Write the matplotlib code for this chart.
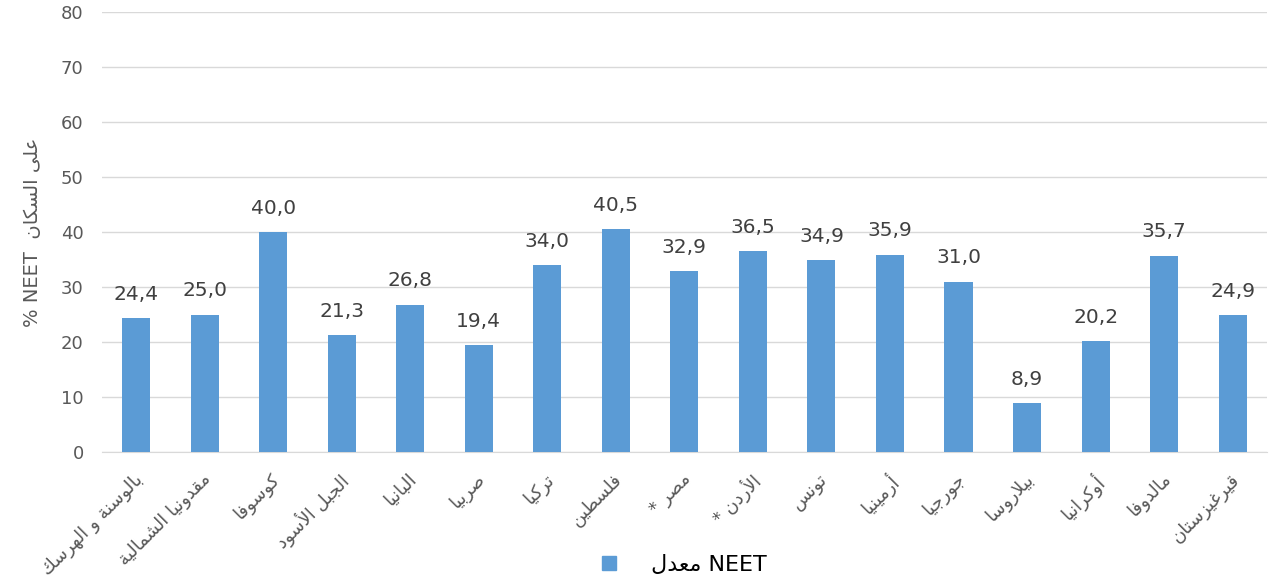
import numpy as np
import matplotlib.pyplot as plt
import matplotlib.transforms as mtransforms
from matplotlib.lines import Line2D

# data
countries = ["بالوسنة و الهرسك", "مقدونيا الشمالية", "كوسوفا", "الجبل الأسود", "البانيا",
             "صربيا", "تركيا", "فلسطين", "مصر *", "الأردن *", "تونس", "أرمينيا",
             "جورجيا", "بيلاروسا", "أوكرانيا", "مالدوفا", "قيرغيزستان"]
neet = [24.4, 25.0, 40.0, 21.3, 26.8, 19.4, 34.0, 40.5, 32.9, 36.5, 34.9, 35.9,
        31.0, 8.9, 20.2, 35.7, 24.9]
y_ticks = [0, 10, 20, 30, 40, 50, 60, 70, 80]

# matplotlib has no arabic shaping, so map to presentation forms and reverse
LETTERS = "ءآأؤإئابةتثجحخدذرزسشصضطظعغفقكلمنهوىي"
NFORMS = [1, 2, 2, 2, 2, 4, 2, 4, 2, 4, 4, 4, 4, 4, 2, 2, 2, 2, 4, 4, 4, 4, 4, 4,
          4, 4, 4, 4, 4, 4, 4, 4, 4, 2, 2, 4]
FORMS = {}
code = 0xFE80
for ch, k in zip(LETTERS, NFORMS):
    FORMS[ch] = [chr(code + j) for j in range(k)]
    code += k
LAM_ALEF = {"ا": 0xFEFB, "أ": 0xFEF7, "إ": 0xFEF9, "آ": 0xFEF5}


def shape(s):
    out = []
    i = 0
    while i < len(s):
        ch = s[i]
        prev_j = i > 0 and s[i-1] in FORMS and len(FORMS[s[i-1]]) == 4
        nxt = s[i+1] if i + 1 < len(s) else ""
        next_j = nxt in FORMS and len(FORMS[nxt]) > 1
        if ch == "ل" and nxt in LAM_ALEF:
            out.append(chr(LAM_ALEF[nxt] + (1 if prev_j else 0)))
            i += 2
            continue
        if ch in FORMS:
            f = FORMS[ch]
            if len(f) == 4:
                if prev_j and next_j:
                    out.append(f[3])
                elif prev_j:
                    out.append(f[1])
                elif next_j:
                    out.append(f[2])
                else:
                    out.append(f[0])
            elif len(f) == 2:
                out.append(f[1] if prev_j else f[0])
            else:
                out.append(f[0])
        else:
            out.append(ch)
        i += 1
    return "".join(out)[::-1]


plt.rcParams['font.family'] = ['DejaVu Sans']
blue = '#5B9BD5'
grey = '#595959'

fig = plt.figure(figsize=(12.72, 5.81), dpi=100)
ax = fig.add_axes([0.080, 0.222, 0.916, 0.757])

x = np.arange(len(countries))
bars = ax.bar(x, neet, width=0.41, color=blue, zorder=3)

for xi, v in zip(x, neet):
    ax.text(xi, v + 2.6, f"{v:.1f}".replace(".", ","), ha='center', va='bottom',
            fontsize=14.5, color='#404040')

ax.set_xlim(-0.5, len(countries) - 0.5)
ax.set_ylim(0, 80)
ax.set_yticks(y_ticks)
ax.tick_params(axis='y', length=0, labelsize=13, labelcolor=grey, pad=13)
ax.yaxis.grid(True, color='#D9D9D9', linewidth=1, zorder=0)
ax.set_xticks(x)
ax.set_xticklabels([shape(c) for c in countries], rotation=45, ha='right', va='top',
                   rotation_mode='anchor', fontsize=13, color=grey)
ax.tick_params(axis='x', length=0, pad=10)
shift = mtransforms.ScaledTranslation(-0.03, -0.04, fig.dpi_scale_trans)
for lab in ax.get_xticklabels():
    lab.set_transform(lab.get_transform() + shift)
for s in ['top', 'right', 'left']:
    ax.spines[s].set_visible(False)
ax.spines['bottom'].set_color('#D9D9D9')

ax.set_ylabel("% NEET  " + shape("على السكان"), fontsize=14, color=grey, labelpad=14)

handle = Line2D([], [], marker='s', color=blue, linestyle='none', markersize=10)
fig.legend([handle], [shape("معدل") + " NEET"], loc='center', bbox_to_anchor=(0.532, 0.028),
           frameon=False, fontsize=16, handletextpad=0.9)

fig.savefig('out.png', dpi=100)
